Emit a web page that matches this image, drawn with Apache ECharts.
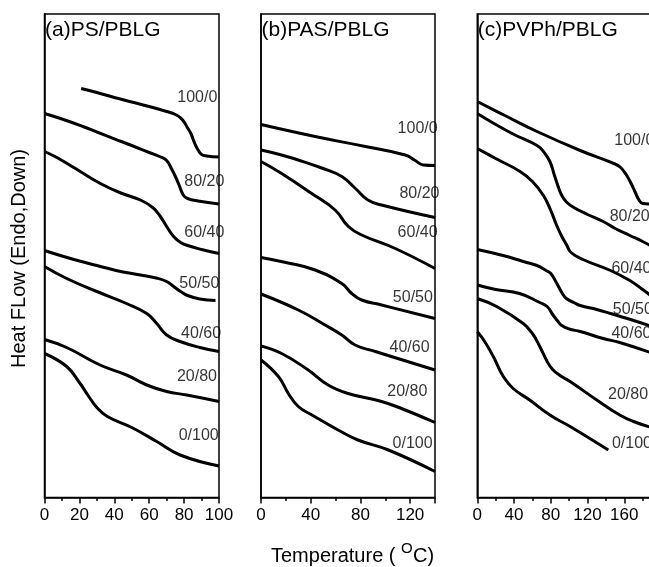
<!DOCTYPE html>
<html><head><meta charset="utf-8">
<script src="https://cdn.jsdelivr.net/npm/echarts/dist/echarts.min.js"></script>
<style>html,body{margin:0;padding:0;background:#fff}#c{width:649px;height:567px}</style>
</head><body><div id="c"></div>
<script>
// Composition labels (polymer / PBLG)
const compositions = ['100/0','80/20','60/40','50/50','40/60','20/80','0/100'];
const panelTitles = ['(a)PS/PBLG','(b)PAS/PBLG','(c)PVPh/PBLG'];
const xMax = [100, 140, 200];
const xInterval = [20, 40, 40];

// Heat flow curves (temperature °C, heat flow a.u.) — panel (a) PS/PBLG
const A_100_0 = [[21,409],[30,405],[40,400],[50,395.5],[60,391],[70,386],[75,383],[78,379.5],[80,375.5],[82,369.5],[84,363.5],[86,354.5],[88,347.5],[90,343],[93,341.5],[100,340.5]];
const A_80_20 = [[0,384],[10,378.5],[22,371],[30,365.5],[40,358.7],[50,352],[60,345],[66,341],[70,337],[73,328],[75,321],[77,313],[79.5,302.5],[82,299],[88,296.5],[100,293.5]];
const A_60_40 = [[0,346],[6,341],[13,334],[20,326.5],[32,314],[43,305],[55,297.5],[62,290],[66,282],[70,271],[74,261],[78,255],[82,252],[90,248],[100,244]];
const A_50_50 = [[0,247],[10,241.5],[20,236.5],[30,232],[41,227],[55,222.5],[64,219.5],[70,216],[74,211],[78,206],[82,202],[89,198.5],[98,197]];
const A_40_60 = [[0,231],[12.7,219],[30,206],[47,194],[58.6,184],[64.3,174],[70,162.5],[77.7,156],[89,150],[100,146]];
const A_20_80 = [[0,158],[12.7,150],[31.8,132.5],[47,122.5],[58.6,112.5],[70,106],[81.5,102.5],[100,96]];
const A_0_100 = [[0,144],[12.7,131],[20,115],[25,102],[30,90],[36,81],[50,70],[64.3,56],[77.7,42.5],[100,31.5]];

// panel (b) PAS/PBLG
const B_100_0 = [[0,373],[43.5,361],[84,351],[116,342.5],[124,337],[130.6,332.5],[140,332]];
const B_80_20 = [[0,347.5],[15,343],[30,337.5],[50,329],[65,321],[76,309],[86,297.5],[97,292.5],[140,280]];
const B_60_40 = [[0,336],[16.6,324],[40.8,304],[59.6,287.5],[70.3,271],[81,262.5],[108,249],[140,229]];
const B_50_50 = [[0,240],[20,235],[43.5,227.5],[65,214],[73,204],[81,197.5],[97,192.5],[140,179]];
const B_40_60 = [[0,203.5],[30,187.5],[51.5,172.5],[65,162.5],[75.7,152.5],[92,146],[140,127.5]];
const B_20_80 = [[0,151.5],[16.6,144],[38,127.5],[54,112.5],[70,104],[97,96],[113,89],[140,75]];
const B_0_100 = [[0,137.5],[14,121],[22,104],[30,91],[41,82.5],[62,67.5],[78,57.5],[102.5,47.5],[140,26]];

// panel (c) PVPh/PBLG
const C_100_0 = [[0,396],[30,382],[65,366],[112,347],[150,333.5],[156,330],[162,323],[168,313],[172,305],[176,297.5],[180,294],[190,293.5]];
const C_80_20 = [[0,384],[20,373],[40,363],[65,352],[72,346],[79,336],[84,322],[88,311],[92,302],[97,295.5],[105,290],[120,283],[137,276],[150,269],[166,262],[180,256],[190,251]];
const C_60_40 = [[0,349],[20,339],[46.5,326],[60,316],[72,302],[80,287],[86,273],[92,261],[97,253],[102,245],[115,238],[145,227],[166,217],[180,208],[190,201]];
const C_50_50 = [[0,248],[28,242],[50,236],[65,232],[75,227],[80,224],[86,215],[92,205],[97,199],[105,195],[112,192],[130,188],[145,184],[165,178.5],[190,171]];
const C_40_60 = [[0,212.5],[20,208],[46,204],[68,195],[76,191],[82,183],[87,177],[92,172],[100,168.5],[112,166],[137,159],[155,155],[190,144.5]];
const C_20_80 = [[0,199],[21,191],[50,174],[60,164],[68,151],[76,136],[82,128],[90,122],[101,116],[130,97.5],[155,82.5],[170,76],[190,70]];
const C_0_100 = [[0,166],[8,156],[17.4,141],[28.3,121],[39,109],[57,97.5],[79,82.5],[101,71],[142.6,47.5]];

const curves = [
  [A_100_0, A_80_20, A_60_40, A_50_50, A_40_60, A_20_80, A_0_100],
  [B_100_0, B_80_20, B_60_40, B_50_50, B_40_60, B_20_80, B_0_100],
  [C_100_0, C_80_20, C_60_40, C_50_50, C_40_60, C_20_80, C_0_100]
];

// annotation anchors (left edge / middle of each composition label, in data units)
const labelAnchors = [
  [[75.8,400],[79.8,316],[79.8,265],[77,214],[78,163.5],[75.6,121],[76.6,62]],
  [[109.5,369],[111,303.5],[109.5,265],[105.7,200],[103,150],[101.2,106],[105.5,53.5]],
  [[148.5,356.7],[143.5,280.8],[145.4,228.7],[147,187.5],[145.4,163.5],[141.7,102.5],[146,53.5]]
];

const FONT = 'Liberation Sans, Arial, Helvetica, sans-serif';
const gridLayout = [
  {left: 44.5, width: 174.5},
  {left: 261, width: 174},
  {left: 477.3, width: 183.75}
];

const grids = [], xAxes = [], yAxes = [], series = [];
for (let i = 0; i < 3; i++) {
  grids.push({left: gridLayout[i].left, width: gridLayout[i].width, top: 14, height: 483.5,
    show: true, borderColor: '#000', borderWidth: 1.5, backgroundColor: 'transparent',
    containLabel: false, outerBoundsMode: 'none'});
  xAxes.push({type: 'value', gridIndex: i, min: 0, max: xMax[i], interval: xInterval[i],
    axisLine: {show: true, onZero: false, lineStyle: {color: '#000', width: 1.5}},
    axisTick: {show: true, inside: false, length: 6, lineStyle: {color: '#000', width: 1.5}},
    minorTick: {show: true, splitNumber: 2, length: 3.5, lineStyle: {color: '#000', width: 1.5}},
    splitLine: {show: false}, minorSplitLine: {show: false},
    axisLabel: {color: '#000', fontSize: 17, fontFamily: FONT, margin: 9,
      showMaxLabel: i === 0, hideOverlap: false}});
  yAxes.push({type: 'value', gridIndex: i, min: 0, max: 483.5,
    axisLine: {show: true, onZero: false, lineStyle: {color: '#000', width: 1.5}},
    axisTick: {show: false}, axisLabel: {show: false}, splitLine: {show: false}});
  curves[i].forEach((d, k) => {
    series.push({type: 'line', name: compositions[k], xAxisIndex: i, yAxisIndex: i,
      data: d, smooth: 0.45, showSymbol: false, symbol: 'none',
      lineStyle: {color: '#000', width: 3}, silent: true});
  });
  series.push({type: 'scatter', xAxisIndex: i, yAxisIndex: i, symbolSize: 1,
    itemStyle: {color: 'transparent'}, silent: true, clip: false,
    data: labelAnchors[i].map((p, k) => [p[0], p[1], compositions[k]]),
    label: {show: true, position: 'right', distance: 0, formatter: p => p.data[2],
      color: '#000', fontSize: 16, fontFamily: FONT}});
}

const graphics = [];
panelTitles.forEach((t, i) => {
  graphics.push({type: 'text', x: gridLayout[i].left + 0.5, y: 30, silent: true,
    style: {text: t, fill: '#000', font: '21px ' + FONT, textAlign: 'left', align: 'left',
      textVerticalAlign: 'middle', verticalAlign: 'middle'}});
});
graphics.push({type: 'text', x: 19.5, y: 258.5, rotation: Math.PI / 2, silent: true,
  style: {text: 'Heat FLow (Endo,Down)', fill: '#000', font: '20px ' + FONT,
    textAlign: 'center', align: 'center', textVerticalAlign: 'middle', verticalAlign: 'middle'}});
graphics.push({type: 'text', x: 271, y: 556, silent: true,
  style: {text: 'Temperature (', fill: '#000', font: '20px ' + FONT,
    textAlign: 'left', align: 'left', textVerticalAlign: 'middle', verticalAlign: 'middle'}});
graphics.push({type: 'text', x: 401, y: 549, silent: true,
  style: {text: 'O', fill: '#000', font: '15px ' + FONT,
    textAlign: 'left', align: 'left', textVerticalAlign: 'middle', verticalAlign: 'middle'}});
graphics.push({type: 'text', x: 413, y: 556, silent: true,
  style: {text: 'C)', fill: '#000', font: '20px ' + FONT,
    textAlign: 'left', align: 'left', textVerticalAlign: 'middle', verticalAlign: 'middle'}});

const chart = echarts.init(document.getElementById('c'), null, {renderer: 'canvas'});
chart.setOption({
  animation: false,
  backgroundColor: '#fff',
  grid: grids, xAxis: xAxes, yAxis: yAxes, series: series, graphic: graphics
});
</script></body></html>
